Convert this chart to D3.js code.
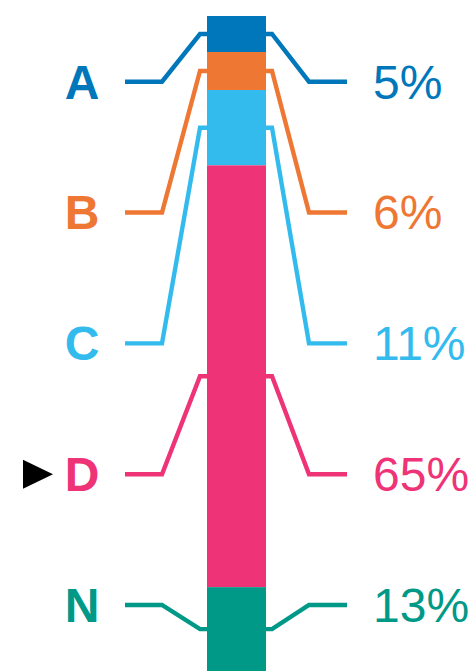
<!DOCTYPE html>
<html>
<head>
<meta charset="utf-8">
<script src="https://cdn.jsdelivr.net/npm/d3@7"></script>
<style>
  html, body { margin: 0; padding: 0; background: #ffffff; }
  svg { display: block; }
</style>
</head>
<body>
<svg id="chart" width="473" height="672"></svg>
<script>
// Data
const categories = ["A", "B", "C", "D", "N"];
const shares = [5.5, 5.8, 11.5, 64.4, 12.8];
const shareLabels = ["5%", "6%", "11%", "65%", "13%"];
const colors = ["#0077BB", "#EE7733", "#33BBEE", "#EE3377", "#009988"];
const highlighted = "D";

const svg = d3.select("#chart");

// Scales
const barX = d3.scaleBand().domain(["bar"]).range([207, 266]).padding(0);
const barY = d3.scaleLinear().domain([0, d3.sum(shares)]).range([16, 671]);
const labelY = d3.scalePoint().domain(categories).range([81.7, 605]);

// Stack
let acc = 0;
const segs = categories.map((c, i) => {
  const s = { cat: c, v0: acc, v1: acc + shares[i], color: colors[i], label: shareLabels[i] };
  acc += shares[i];
  return s;
});

const x0 = barX("bar"), x1 = x0 + barX.bandwidth();
const line = d3.line();

// Connectors
const conn = svg.append("g").attr("fill", "none").attr("stroke-width", 4.4).attr("stroke-linejoin", "miter");
segs.forEach(s => {
  const by = barY((s.v0 + s.v1) / 2);
  const ly = labelY(s.cat);
  conn.append("path")
    .attr("stroke", s.color)
    .attr("d", line([[125, ly], [162, ly], [200, by], [x0 + 1, by]]));
  conn.append("path")
    .attr("stroke", s.color)
    .attr("d", line([[x1 - 1, by], [272, by], [309, ly], [347, ly]]));
});

// Bar
svg.append("g").selectAll("rect").data(segs).join("rect")
  .attr("x", x0)
  .attr("width", barX.bandwidth())
  .attr("y", d => barY(d.v0))
  .attr("height", d => barY(d.v1) - barY(d.v0))
  .attr("fill", d => d.color);

// Category letters
svg.append("g").selectAll("text").data(segs).join("text")
  .attr("x", 82)
  .attr("y", d => labelY(d.cat) + 16.8)
  .attr("text-anchor", "middle")
  .attr("font-family", "Liberation Sans, Arial, sans-serif")
  .attr("font-weight", "bold")
  .attr("font-size", 48)
  .attr("fill", d => d.color)
  .text(d => d.cat);

// Percent labels
svg.append("g").selectAll("text").data(segs).join("text")
  .attr("x", 373)
  .attr("y", d => labelY(d.cat) + 16.8)
  .attr("text-anchor", "start")
  .attr("font-family", "Liberation Sans, Arial, sans-serif")
  .attr("font-size", 48)
  .attr("fill", d => d.color)
  .text(d => d.label);

// Highlight marker
const hy = labelY(highlighted);
svg.append("path")
  .attr("d", line([[23, hy - 14.5], [53, hy], [23, hy + 14.5]]) + "Z")
  .attr("fill", "#000");
</script>
</body>
</html>
